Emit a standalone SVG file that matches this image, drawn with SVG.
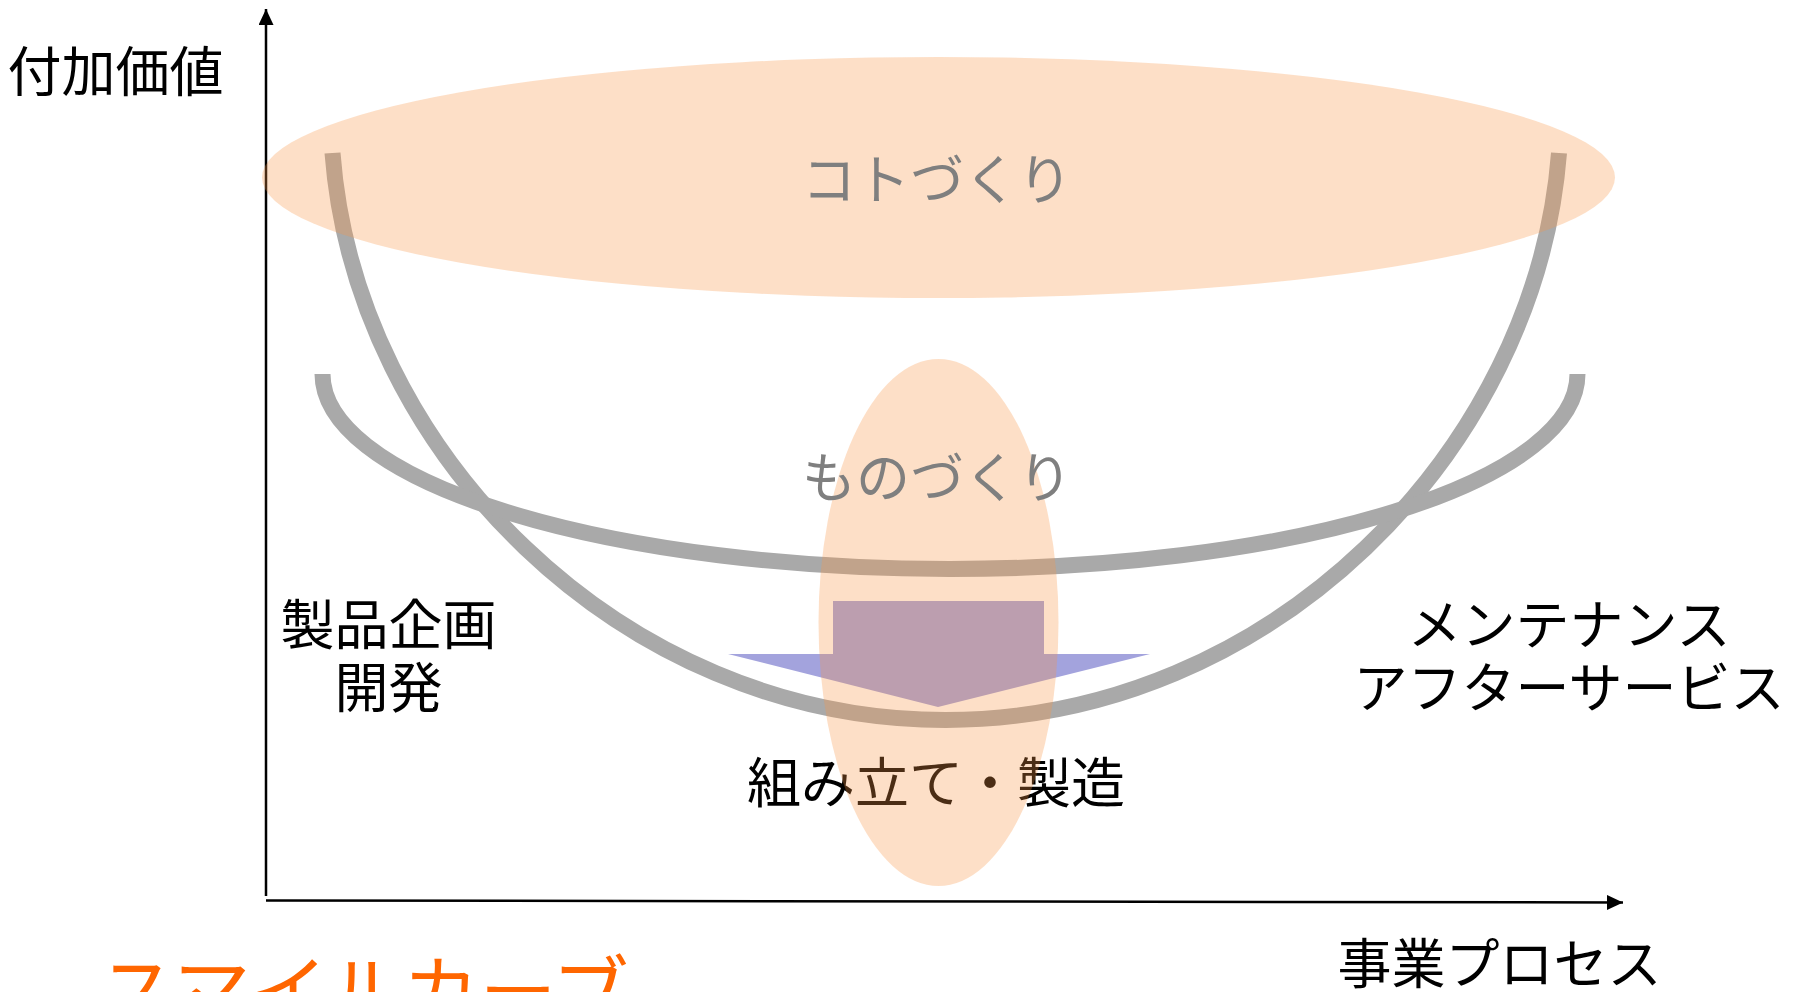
<svg xmlns="http://www.w3.org/2000/svg" width="1798" height="992" viewBox="0 0 1798 992">
  <defs>
    <style>
      .t { font-family: "Noto Sans CJK JP", "Noto Sans", sans-serif; font-weight: 400; text-anchor: middle; dominant-baseline: central; }
      .lbl { font-size: 54px; fill: #000000; }
      .gray { font-size: 54px; fill: #7F7F7F; }
      .curve { fill: none; stroke: #A9A9A9; stroke-width: 16; stroke-linecap: butt; }
      .hl { fill: #F79646; fill-opacity: 0.3; }
      .axis { stroke: #000000; stroke-width: 2.5; fill: none; }
    </style>
    <marker id="ah" viewBox="0 0 16 15" refX="16" refY="7.5" markerWidth="16" markerHeight="15" markerUnits="userSpaceOnUse" orient="auto">
      <path d="M0,0 L16,7.5 L0,15 Z" fill="#000000"/>
    </marker>
  </defs>

  <g id="connectors">
    <line class="axis" x1="266" y1="896" x2="266" y2="9" marker-end="url(#ah)"/>
    <line class="axis" x1="266" y1="900.5" x2="1623" y2="902.5" marker-end="url(#ah)"/>
  </g>

  <g id="curves">
    <path id="smile-curve-high" class="curve" d="M332.5,153 C355,450 620,720 945.5,720 C1271,720 1536,450 1559,153"/>
    <path id="smile-curve-low" class="curve" d="M322.5,374 A627.5,195 0 0 0 1577.5,374"/>
  </g>

  <g id="arrow">
    <path d="M833,601 L1044,601 L1044,654 L1150,654 L938,707 L728,654 L833,654 Z" fill="#A3A3DD"/>
  </g>

  <g id="node-assembly">
    <text class="t lbl" x="936" y="779">組み立て・製造</text>
  </g>

  <g id="node-monozukuri-area">
    <ellipse class="hl" cx="938.5" cy="622.5" rx="120" ry="263.5"/>
  </g>
  <g id="node-kotozukuri-area">
    <ellipse class="hl" cx="938.5" cy="177.5" rx="676.5" ry="120.5"/>
  </g>

  <g id="node-kotozukuri">
    <text class="t gray" x="937" y="176">コトづくり</text>
  </g>
  <g id="node-monozukuri">
    <text class="t gray" x="937" y="474">ものづくり</text>
  </g>

  <g id="node-yaxis-label">
    <text class="t lbl" x="115.5" y="68">付加価値</text>
  </g>
  <g id="node-xaxis-label">
    <text class="t lbl" x="1499.5" y="960">事業プロセス</text>
  </g>
  <g id="node-planning">
    <text class="t lbl" x="388.5" y="621">製品企画</text>
    <text class="t lbl" x="388.5" y="684">開発</text>
  </g>
  <g id="node-service">
    <text class="t lbl" x="1569" y="621">メンテナンス</text>
    <text class="t lbl" x="1569" y="684">アフターサービス</text>
  </g>
  <g id="node-title">
    <text class="t" x="364" y="986" style="font-size:77px; fill:#FF6600;">スマイルカーブ</text>
  </g>
</svg>
